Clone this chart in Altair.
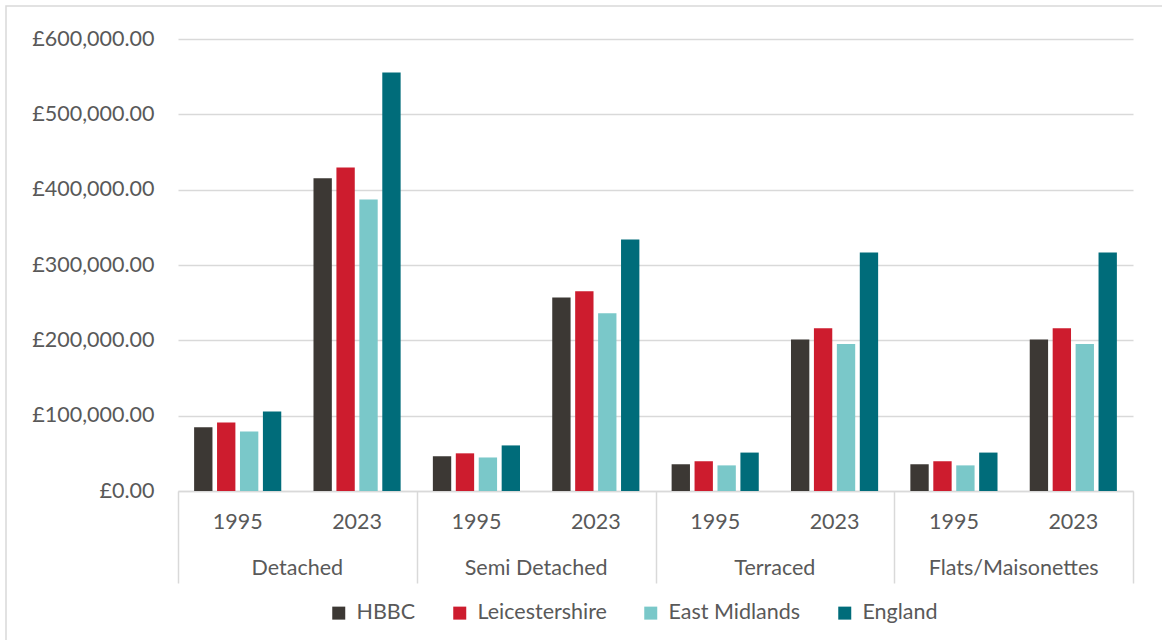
import altair as alt
import pandas as pd

# Average house prices by property type, 1995 vs 2023
types = ["Detached", "Semi Detached", "Terraced", "Flats/Maisonettes"]
years = ["1995", "2023"]
series = ["HBBC", "Leicestershire", "East Midlands", "England"]
colors = ["#3c3834", "#cd1c2e", "#7ac8c9", "#006c7a"]

# values listed per series in order: type x year
hbbc = [84500, 415000, 46000, 257000, 35500, 201000, 35500, 201000]
leicestershire = [91000, 429500, 50000, 265000, 39500, 216000, 39500, 216000]
east_midlands = [79000, 387000, 44500, 236000, 34000, 195000, 34000, 195000]
england = [105500, 555500, 60500, 334000, 51000, 316500, 51000, 316500]

series_values = [hbbc, leicestershire, east_midlands, england]
categories = [f"{t}|{y}" for t in types for y in years]

rows = []
for name, vals in zip(series, series_values):
    for cat, v in zip(categories, vals):
        t, y = cat.split("|")
        rows.append({"type": t, "year": y, "cat": cat, "series": name, "value": v})
df = pd.DataFrame(rows)
type_df = pd.DataFrame({"type": types})
frame_df = pd.DataFrame({"k": [0]})

FONT = "Lato"
TXT = "#595959"
GRID = "#d9d9d9"
FS = 21.5

bars = alt.Chart(df).mark_bar().encode(
    x=alt.X(
        "cat:N",
        sort=categories,
        scale=alt.Scale(paddingInner=0.27, paddingOuter=0.135),
        axis=alt.Axis(
            orient="bottom",
            title=None,
            labelExpr="split(datum.label, '|')[1]",
            labelAngle=0,
            ticks=False,
            domain=True,
            domainColor=GRID,
            domainWidth=1.5,
            labelPadding=20,
            labelFont=FONT,
            labelFontSize=FS,
            labelColor=TXT,
            grid=False,
        ),
    ),
    xOffset=alt.XOffset("series:N", sort=series, scale=alt.Scale(paddingInner=0.2)),
    y=alt.Y(
        "value:Q",
        scale=alt.Scale(domain=[0, 600000], nice=False),
        axis=alt.Axis(
            title=None,
            values=[0, 100000, 200000, 300000, 400000, 500000, 600000],
            labelExpr="'£' + format(datum.value, ',.2f')",
            domain=False,
            ticks=False,
            labelPadding=24,
            labelFont=FONT,
            labelFontSize=FS,
            labelColor=TXT,
            grid=True,
            gridColor=GRID,
            gridWidth=1.5,
        ),
    ),
    color=alt.Color(
        "series:N",
        sort=series,
        scale=alt.Scale(domain=series, range=colors),
        legend=alt.Legend(
            title=None,
            orient="none",
            direction="horizontal",
            legendX=150,
            legendY=563,
            symbolType="square",
            symbolSize=169,
            symbolStrokeWidth=0,
            symbolOpacity=1,
            labelOffset=7,
            columnPadding=33,
            labelFont=FONT,
            labelFontSize=FS,
            labelColor=TXT,
        ),
    ),
)

# outer category level: group names with separators between them
groups = alt.Chart(type_df).mark_text(
    font=FONT, fontSize=FS, color=TXT, baseline="middle"
).encode(
    x=alt.X(
        "type:N",
        sort=types,
        scale=alt.Scale(paddingInner=0, paddingOuter=0),
        axis=alt.Axis(
            orient="bottom",
            title=None,
            labels=False,
            domain=False,
            ticks=True,
            tickBand="extent",
            tickSize=92,
            tickColor=GRID,
            tickWidth=1.5,
            grid=False,
        ),
    ),
    y=alt.value(530),
    text="type:N",
)

frame = alt.Chart(frame_df).mark_rect(
    fill="transparent", stroke=GRID, strokeWidth=1.5
).encode(
    x=alt.value(-172),
    x2=alt.value(1200),
    y=alt.value(-33),
    y2=alt.value(800),
)

chart = (
    alt.layer(frame, bars, groups)
    .resolve_scale(x="independent")
    .properties(
        width=955,
        height=452,
        autosize=alt.AutoSizeParams(type="none"),
        padding={"left": 178, "top": 39, "right": 29, "bottom": 149},
        background="white",
    )
    .configure_view(strokeWidth=0)
)

chart.save("out.html", embed_options={"renderer": "svg", "actions": False})
